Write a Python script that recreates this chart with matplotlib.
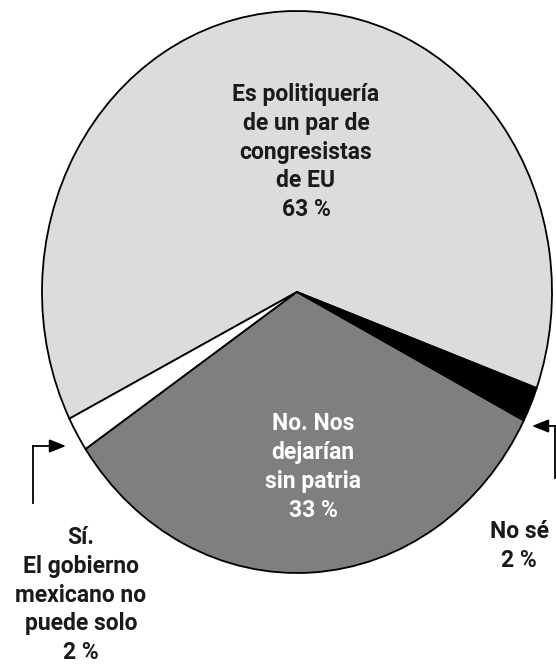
import matplotlib
matplotlib.use("Agg")
import matplotlib.pyplot as plt
from matplotlib.lines import Line2D
from matplotlib.patches import FancyArrowPatch

# data
categories = ["Es politiquería\nde un par de\ncongresistas\nde EU",
              "Sí.\nEl gobierno\nmexicano no\npuede solo",
              "No. Nos\ndejarían\nsin patria",
              "No sé"]
shares = [63, 2, 33, 2]
colors = ["#dcdcdc", "#ffffff", "#7f7f7f", "#000000"]

W, H = 556, 666
fig = plt.figure(figsize=(W / 100, H / 100), dpi=100)
fig.patch.set_facecolor("white")

plt.rcParams["font.family"] = ["Roboto", "DejaVu Sans"]


def fx(px):
    return px / W


def fy(py):
    return 1 - py / H


# axes box matches the (slightly tall) ellipse of the pie
ax = fig.add_axes([fx(42), fy(573), 510 / W, 562 / H])
wedges, _ = ax.pie(
    shares,
    colors=colors,
    startangle=-20,
    counterclock=True,
    radius=1.0,
    wedgeprops=dict(edgecolor="black", linewidth=1.3),
)
ax.set_aspect("auto")
ax.set_xlim(-1, 1)
ax.set_ylim(-1, 1)
ax.axis("off")

fs = 16.5
ls = 1.33

# labels inside the pie
fig.text(fx(306), fy(152), categories[0] + f"\n{shares[0]} %", ha="center", va="center",
         fontsize=fs, fontweight="bold", color="#1a1a1a", linespacing=ls)
fig.text(fx(313), fy(467), categories[2] + f"\n{shares[2]} %", ha="center", va="center",
         fontsize=fs, fontweight="bold", color="white", linespacing=ls)

# labels outside
fig.text(fx(81), fy(595), categories[1] + f"\n{shares[1]} %", ha="center", va="center",
         fontsize=fs, fontweight="bold", color="#1a1a1a", linespacing=ls)
fig.text(fx(519), fy(546), categories[3] + f"\n{shares[3]} %", ha="center", va="center",
         fontsize=fs, fontweight="bold", color="#1a1a1a", linespacing=ls)

# bent arrows
arrow_style = "-|>,head_length=10,head_width=4"
fig.add_artist(Line2D([fx(33), fx(33)], [fy(503), fy(446)], color="black", lw=1.3))
fig.add_artist(Line2D([fx(555), fx(555)], [fy(478), fy(426)], color="black", lw=1.3))
fig.add_artist(FancyArrowPatch(
    (fx(33), fy(446)), (fx(66), fy(446)), transform=fig.transFigure,
    arrowstyle=arrow_style, color="black", lw=1.3, mutation_scale=1,
    shrinkA=0, shrinkB=0))
fig.add_artist(FancyArrowPatch(
    (fx(555), fy(426)), (fx(532), fy(426)), transform=fig.transFigure,
    arrowstyle=arrow_style, color="black", lw=1.3, mutation_scale=1,
    shrinkA=0, shrinkB=0))

fig.savefig("out.png", dpi=100, facecolor="white")
